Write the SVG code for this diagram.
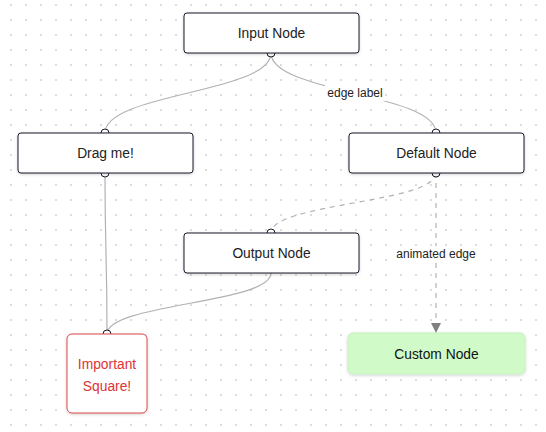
<svg xmlns="http://www.w3.org/2000/svg" width="546" height="432" viewBox="0 0 546 432">
<style>
.node rect.box{fill:#fff;stroke:#1a192b;stroke-width:1;filter:url(#sh)}
.node text{font-family:"Liberation Sans",Arial,sans-serif;font-size:13.8px;fill:#222;text-anchor:middle;dominant-baseline:central}
.handle{fill:#fff;stroke:#1a192b;stroke-width:1}
.edge{fill:none;stroke:#b1b1b7;stroke-width:1.2}
.dash{stroke-dasharray:5 5}
.elabel{font-family:"Liberation Sans",Arial,sans-serif;font-size:12px;fill:#222;text-anchor:middle;dominant-baseline:central}
</style>
<defs>
<pattern id="dots" x="0" y="0" width="15" height="15" patternUnits="userSpaceOnUse">
<circle cx="11" cy="5" r="0.7" fill="#a0a0a8"/>
</pattern>
<filter id="sh" x="-10%" y="-20%" width="120%" height="150%">
<feDropShadow dx="0" dy="1" stdDeviation="1.5" flood-color="#000" flood-opacity="0.18"/>
</filter>
<marker id="arrow" viewBox="0 0 10 10" refX="9" refY="5" markerWidth="10" markerHeight="10" markerUnits="userSpaceOnUse" orient="auto">
<path d="M0,0 L10,5 L0,10 Z" fill="#808080"/>
</marker>
</defs>
<rect width="546" height="432" fill="#fff"/>
<rect width="546" height="432" fill="url(#dots)"/>

<g id="edges">
<path class="edge" d="M271,53 C271,93 105,93 105,133"/>
<path class="edge" d="M271,53 C271,93 436,93 436,133"/>
<rect x="325" y="85" width="60" height="16" fill="#fff"/>
<text class="elabel" x="355" y="93">edge label</text>
<path class="edge dash" d="M436,173 C436,203 271,203 271,233"/>
<path class="edge" d="M271,273 C271,303.5 107,303.5 107,334"/>
<path class="edge" d="M105,173 C105,253 107,253 107,334"/>
<path class="edge dash" d="M436,173 L436,332" marker-end="url(#arrow)"/>
<rect x="394" y="246" width="84" height="16" fill="#fff"/>
<text class="elabel" x="436" y="254">animated edge</text>
</g>

<g id="node-input" class="node">
<circle class="handle" cx="271" cy="53" r="4"/>
<rect class="box" x="184" y="13" width="175" height="40" rx="3"/>
<text x="271.5" y="33">Input Node</text>
</g>

<g id="node-drag" class="node">
<circle class="handle" cx="105" cy="133" r="4"/>
<circle class="handle" cx="105" cy="173" r="4"/>
<rect class="box" x="18" y="133" width="175" height="40" rx="3"/>
<text x="105.5" y="153">Drag me!</text>
</g>

<g id="node-default" class="node">
<circle class="handle" cx="436" cy="133" r="4"/>
<circle class="handle" cx="436" cy="173" r="4"/>
<rect class="box" x="349" y="133" width="175" height="40" rx="3"/>
<text x="436.5" y="153">Default Node</text>
</g>

<g id="node-output" class="node">
<circle class="handle" cx="271" cy="233" r="4"/>
<rect class="box" x="184" y="233" width="175" height="40" rx="3"/>
<text x="271.5" y="253">Output Node</text>
</g>

<g id="node-square" class="node">
<circle class="handle" cx="107" cy="334" r="4"/>
<rect class="box" x="67" y="334" width="80" height="79" rx="5" style="stroke:#d94848"/>
<text x="107" y="364" style="fill:#d33">Important</text>
<text x="107" y="386" style="fill:#d33">Square!</text>
</g>

<g id="node-custom" class="node">
<rect class="box" x="348" y="333" width="177" height="41" rx="5" style="fill:#d0fbc9;stroke:#c6efc0"/>
<text x="436.5" y="354" style="fill:#111">Custom Node</text>
</g>
</svg>
